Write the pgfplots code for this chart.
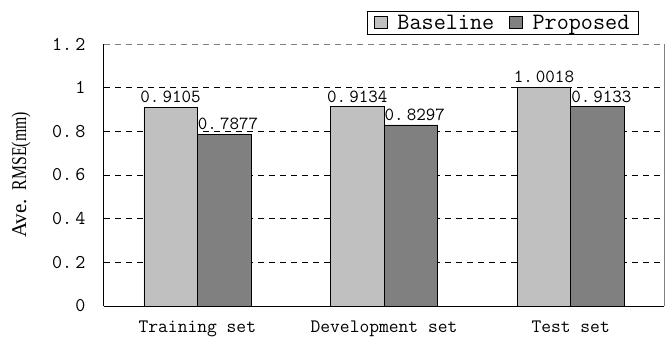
\documentclass[border=0pt]{standalone}
\usepackage{pgfplots}
\pgfplotsset{compat=1.18}
\usepackage{graphicx}
\usepackage{fontspec}
\newfontfamily\serif{Liberation Serif}
\definecolor{lgray}{HTML}{C0C0C0}
\definecolor{dgray}{HTML}{808080}
\begin{document}
\begin{tikzpicture}
\path[use as bounding box] (-104bp,-33bp) rectangle (565bp,306bp);
\begin{axis}[
  at={(0,0)}, anchor=south west,
  scale only axis, width=560bp, height=262bp,
  xmin=-0.5, xmax=2.5, ymin=0, ymax=1.2,
  ybar=0pt, bar width=53.5bp,
  axis x line*=bottom, axis y line*=left,
  axis line style={black, line width=1bp},
  x axis line style={-}, y axis line style={-},
  xtick={0,1,2}, xticklabels={Training set, Development set, Test set},
  major x tick style={draw=none},
  xticklabel style={font=\ttfamily\fontsize{19bp}{19bp}\selectfont, yshift=-7bp},
  extra x ticks={0.5,1.5}, extra x tick labels={},
  extra x tick style={tick align=inside, major tick length=4bp, tick style={black, line width=0.6bp}},
  ytick={0,0.2,0.4,0.6,0.8,1,1.2},
  yticklabels={0,0.\,2,0.\,4,0.\,6,0.\,8,1,1.\,2},
  major y tick style={draw=none},
  yticklabel style={font=\ttfamily\fontsize{19.5bp}{19.5bp}\selectfont, xshift=-15bp},
  ymajorgrids, y grid style={black, line width=0.6bp, dash pattern=on 6bp off 5bp},
  ylabel={\serif Ave.\hspace{9bp}\scalebox{0.75}[1]{RMSE(mm)}}, ylabel style={font=\fontsize{21bp}{21bp}\selectfont, at={(-83bp,0.5)}, anchor=center},
  nodes near coords, point meta=explicit symbolic,
  every node near coord/.append style={font=\ttfamily\fontsize{18.5bp}{18.5bp}\selectfont, black, inner sep=1bp, yshift=3bp},
  legend columns=2,
  legend style={at={(0.955,1.034)}, anchor=south east, draw=black, line width=0.8bp, font=\ttfamily\fontsize{23.5bp}{23.5bp}\selectfont, inner xsep=7bp, inner ysep=1.5bp, /tikz/every even column/.append style={column sep=13bp}},
  legend image code/.code={\draw[#1,draw=black,line width=0.8bp] (0bp,-5.5bp) rectangle (12.5bp,7bp);},
  clip=false,
]
\addplot[fill=lgray, draw=black, line width=0.6bp] coordinates {(0,0.9105)[0.\,9105] (1,0.9134)[0.\,9134] (2,1.0018)[1.\,0018]};
\addplot[fill=dgray, draw=black, line width=0.6bp, every node near coord/.append style={xshift=4bp}] coordinates {(0,0.7877)[0.\,7877] (1,0.8297)[0.\,8297] (2,0.9133)[0.\,9133]};
\legend{\hspace{8bp}Baseline, \hspace{8bp}Proposed}
\draw[gray, line width=0.8bp] (rel axis cs:1,0) -- (rel axis cs:1,1);
\draw[gray, line width=0.8bp, dash pattern=on 6bp off 5bp] (rel axis cs:0,1) -- (rel axis cs:1,1);
\end{axis}
\end{tikzpicture}
\end{document}
